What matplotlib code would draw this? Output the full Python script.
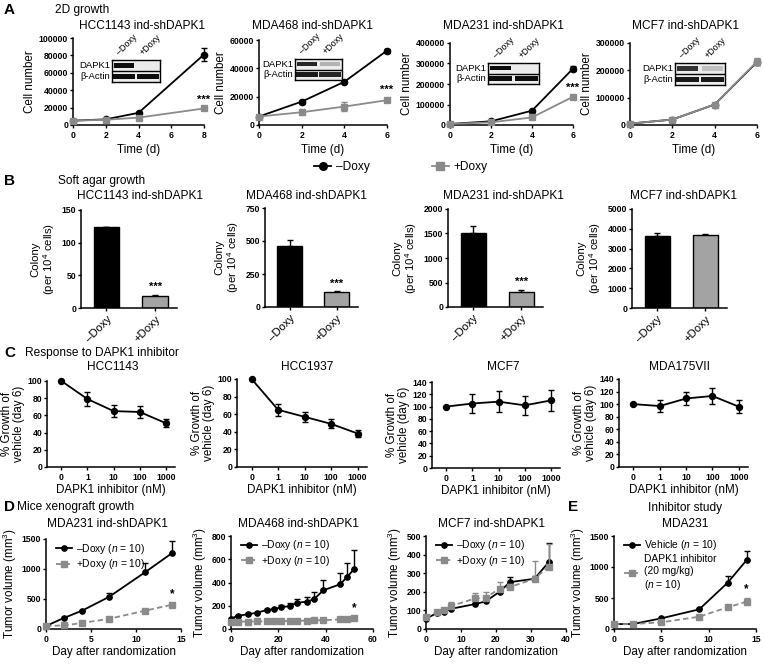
import matplotlib
matplotlib.use('Agg')
import matplotlib.pyplot as plt
from matplotlib.lines import Line2D
from matplotlib.patches import Rectangle
from matplotlib.collections import LineCollection

plt.rcParams['font.family'] = ['Liberation Sans', 'DejaVu Sans']
plt.rcParams['mathtext.fontset'] = 'custom'
plt.rcParams['mathtext.rm'] = 'Liberation Sans'
plt.rcParams['mathtext.it'] = 'Liberation Sans:italic'
plt.rcParams['mathtext.bf'] = 'Liberation Sans:bold'
plt.rcParams['axes.linewidth'] = 1.1
plt.rcParams['xtick.major.width'] = 1.0
plt.rcParams['ytick.major.width'] = 1.0
plt.rcParams['xtick.major.size'] = 2.5
plt.rcParams['ytick.major.size'] = 2.5
plt.rcParams['xtick.major.pad'] = 1.5
plt.rcParams['ytick.major.pad'] = 1.0

# ---------------- data ----------------
# Panel A: 2D growth
a_titles = ['HCC1143 ind-shDAPK1', 'MDA468 ind-shDAPK1', 'MDA231 ind-shDAPK1', 'MCF7 ind-shDAPK1']
a_days = [[0, 2, 4, 8], [0, 2, 4, 6], [0, 2, 4, 6], [0, 2, 4, 6]]
a_minus = [[5000, 6500, 14000, 81000], [6000, 16500, 30500, 52500],
           [5000, 18000, 70000, 275000], [5000, 20000, 75000, 230000]]
a_minus_err = [[500, 500, 1200, 8000], [500, 1500, 700, 1500],
               [1000, 2000, 4000, 12000], [1000, 2000, 4000, 10000]]
a_plus = [[5000, 6000, 8500, 19000], [6000, 9000, 13000, 17500],
          [5000, 13000, 37000, 138000], [5000, 20000, 75000, 232000]]
a_plus_err = [[500, 500, 1000, 1500], [500, 1000, 3000, 1500],
              [1000, 1500, 3000, 6000], [1000, 2000, 5000, 12000]]
a_xticks = [[0, 2, 4, 6, 8], [0, 2, 4, 6], [0, 2, 4, 6], [0, 2, 4, 6]]
a_yticks = [[0, 20000, 40000, 60000, 80000, 100000], [0, 20000, 40000, 60000],
            [0, 100000, 200000, 300000, 400000], [0, 100000, 200000, 300000]]
a_sig = ['***', '***', '***', '']
# western blot band intensities (lanes: -Doxy, +Doxy)
blot_dapk = [[0.95, 0.08], [0.85, 0.3], [0.95, 0.08], [0.8, 0.25]]
blot_actin = [[0.95, 0.95], [0.9, 0.85], [0.95, 0.95], [0.9, 0.9]]

# Panel B: soft agar
b_groups = ['–Doxy', '+Doxy']
b_vals = [[124, 19], [460, 115], [1500, 300], [3650, 3680]]
b_err = [[0.5, 1.5], [45, 5], [150, 45], [150, 50]]
b_yticks = [[0, 50, 100, 150], [0, 250, 500, 750], [0, 500, 1000, 1500, 2000],
            [0, 1000, 2000, 3000, 4000, 5000]]
b_sig = ['***', '***', '***', '']

# Panel C: response to DAPK1 inhibitor
c_titles = ['HCC1143', 'HCC1937', 'MCF7', 'MDA175VII']
c_doses = ['0', '1', '10', '100', '1000']
c_vals = [[100, 79, 65, 64, 51], [100, 65, 57, 49, 38],
          [100, 105, 108, 102, 110], [100, 97, 109, 113, 96]]
c_err = [[0, 8, 7, 7, 5], [0, 7, 6, 5, 4], [0, 16, 17, 16, 17], [0, 10, 11, 12, 10]]
c_yticks = [[0, 20, 40, 60, 80, 100], [0, 20, 40, 60, 80, 100],
            [0, 20, 40, 60, 80, 100, 120, 140], [0, 20, 40, 60, 80, 100, 120, 140]]

# Panel D: xenografts
d_titles = ['MDA231 ind-shDAPK1', 'MDA468 ind-shDAPK1', 'MCF7 ind-shDAPK1']
d231_days = [0, 2, 4, 7, 11, 14]
d231_minus = [50, 185, 305, 535, 945, 1265]
d231_minus_err = [5, 15, 20, 65, 155, 195]
d231_plus = [50, 60, 100, 170, 305, 405]
d231_plus_err = [5, 5, 8, 10, 15, 25]
d468_days = [0, 3, 7, 11, 15, 18, 21, 25, 28, 32, 35, 39, 46, 49, 52]
d468_minus = [90, 114, 126, 140, 163, 169, 186, 198, 226, 235, 255, 333, 384, 445, 516]
d468_minus_err = [5, 8, 8, 10, 10, 12, 20, 28, 32, 43, 66, 88, 100, 125, 165]
d468_plus = [62, 63, 64, 65, 66, 67, 68, 69, 70, 72, 74, 76, 82, 88, 95]
d468_plus_err = [3, 3, 3, 3, 3, 3, 3, 3, 3, 3, 4, 4, 5, 6, 8]
dmcf_days = [0, 3, 5, 7, 14, 17, 21, 24, 31, 35]
dmcf_minus = [55, 85, 93, 108, 134, 148, 200, 252, 270, 358]
dmcf_minus_err = [8, 6, 6, 8, 8, 8, 12, 30, 15, 106]
dmcf_plus = [62, 90, 102, 123, 164, 167, 217, 226, 270, 335]
dmcf_plus_err = [8, 6, 6, 23, 30, 33, 35, 15, 94, 124]

# Panel E: inhibitor study
e_days = [0, 2, 5, 9, 12, 14]
e_vehicle = [80, 80, 172, 317, 745, 1110]
e_vehicle_err = [5, 5, 10, 15, 110, 150]
e_inhib = [80, 80, 108, 198, 350, 440]
e_inhib_err = [5, 5, 8, 10, 36, 55]

# ---------------- helpers ----------------
BLACK = '#000000'
GRAY = '#8a8a8a'
BARGRAY = '#a3a3a3'
TICKFS = 6.2
LABFS = 8.4
TITFS = 8.6

W, H = 764, 664
fig = plt.figure(figsize=(W / 100, H / 100), dpi=100)


def add_ax(x0, y0, x1, y1):
    return fig.add_axes([x0 / W, 1 - y1 / H, (x1 - x0) / W, (y1 - y0) / H])


def ftext(x, y, s, **kw):
    fig.text(x / W, 1 - y / H, s, **kw)


def style(ax, xticks=None, xlabels=None, yticks=None, ylabels=None, xbold=True):
    for s in ['top', 'right']:
        ax.spines[s].set_visible(False)
    if xticks is not None:
        ax.set_xticks(xticks)
        ax.set_xticklabels(xlabels if xlabels is not None else [str(t) for t in xticks],
                           fontsize=TICKFS, fontweight='bold' if xbold else 'normal')
    if yticks is not None:
        ax.set_yticks(yticks)
        ax.set_yticklabels(ylabels if ylabels is not None else [str(t) for t in yticks],
                           fontsize=TICKFS, fontweight='bold')


def unclip(ax):
    for ch in ax.get_children():
        if isinstance(ch, (Line2D, LineCollection)):
            ch.set_clip_on(False)


# ---------------- panel labels ----------------
ftext(4, 10, 'A', fontsize=11, fontweight='bold', va='center')
ftext(55, 10, '2D growth', fontsize=TITFS, va='center')
ftext(4, 181, 'B', fontsize=11, fontweight='bold', va='center')
ftext(58, 181, 'Soft agar growth', fontsize=TITFS, va='center')
ftext(4, 353, 'C', fontsize=11, fontweight='bold', va='center')
ftext(25, 353, 'Response to DAPK1 inhibitor', fontsize=TITFS, va='center')
ftext(4, 507, 'D', fontsize=11, fontweight='bold', va='center')
ftext(17, 507, 'Mice xenograft growth', fontsize=TITFS, va='center')
ftext(568, 507, 'E', fontsize=11, fontweight='bold', va='center')
ftext(685, 508, 'Inhibitor study', fontsize=TITFS, va='center', ha='center')

# ---------------- Panel A ----------------
a_boxes = [(73, 38, 204, 125), (259, 40, 387, 125), (450, 43, 573, 125), (630, 43, 757, 125)]
a_tcent = [142, 312, 503, 685]
blot_boxes = [(112, 60, 160, 82), (295, 59, 342, 80), (488, 63, 539, 84), (675, 63, 725, 85)]
for i in range(4):
    ax = add_ax(*a_boxes[i])
    ax.errorbar(a_days[i], a_minus[i], yerr=a_minus_err[i], color=BLACK, marker='o', ms=4.5,
                lw=1.3, capsize=2, elinewidth=1, zorder=3)
    ax.errorbar(a_days[i], a_plus[i], yerr=a_plus_err[i], color=GRAY, marker='s', ms=4.5,
                lw=1.3, capsize=2, elinewidth=1, zorder=4)
    ax.set_xlim(0, a_xticks[i][-1])
    ax.set_ylim(0, a_yticks[i][-1])
    style(ax, a_xticks[i], None, a_yticks[i])
    unclip(ax)
    ax.set_xlabel('Time (d)', fontsize=LABFS, labelpad=3)
    ax.set_ylabel('Cell number', fontsize=LABFS, labelpad=2)
    if a_sig[i]:
        ax.annotate(a_sig[i], (a_days[i][-1], a_plus[i][-1] + a_plus_err[i][-1]),
                    xytext=(0, 2), textcoords='offset points', ha='center', va='bottom',
                    fontsize=8, fontweight='bold')
    ftext(a_tcent[i], 26, a_titles[i], fontsize=TITFS, ha='center', va='center')

    # western blot inset
    bx0, by0, bx1, by1 = blot_boxes[i]
    bax = add_ax(bx0, by0, bx1, by1)
    bax.set_xlim(0, 2)
    bax.set_ylim(0, 2)
    bax.set_facecolor('#ececec')
    bax.set_xticks([])
    bax.set_yticks([])
    for s in bax.spines.values():
        s.set_linewidth(1.0)
    bax.axhline(1, color=BLACK, lw=1.0)
    for j in range(2):
        g = 1 - blot_dapk[i][j]
        bax.add_patch(Rectangle((j + 0.08, 1.3), 0.84, 0.4, color=(g, g, g), lw=0))
        g = 1 - blot_actin[i][j]
        bax.add_patch(Rectangle((j + 0.04, 0.25), 0.92, 0.5, color=(g, g, g), lw=0))
    ftext(bx0 - 2, by0 + (by1 - by0) * 0.27, 'DAPK1', fontsize=6.8, ha='right', va='center')
    ftext(bx0 - 2, by0 + (by1 - by0) * 0.75, 'β-Actin', fontsize=6.8, ha='right', va='center')
    bw = (bx1 - bx0) / 2
    for j, lab in enumerate(['–Doxy', '+Doxy']):
        ftext(bx0 + bw * (j + 0.5) - 3, by0 - 3, lab, fontsize=6.5, rotation=45,
              ha='left', va='bottom', rotation_mode='anchor')

# legend between A and B
h1 = Line2D([], [], color=BLACK, marker='o', ms=5.5, lw=1.3)
h2 = Line2D([], [], color=GRAY, marker='s', ms=5.5, lw=1.3)
fig.legend([h1, h2], ['–Doxy', '+Doxy'], loc='center', bbox_to_anchor=(401 / W, 1 - 167 / H),
           ncol=2, frameon=False, fontsize=8.6, handlelength=1.4, columnspacing=5.2,
           handletextpad=0.4)

# ---------------- Panel B ----------------
b_boxes = [(81, 210, 177, 308), (265, 208, 358, 307), (448, 209, 543, 307), (632, 209, 727, 308)]
b_tcent = [140, 306, 503, 684]
for i in range(4):
    ax = add_ax(*b_boxes[i])
    ax.bar([0, 1], b_vals[i], width=0.52, color=[BLACK, BARGRAY], edgecolor=BLACK,
           linewidth=1.0, zorder=2)
    ax.errorbar([0, 1], b_vals[i], yerr=[[0, 0], b_err[i]], fmt='none', ecolor=BLACK,
                capsize=2.5, elinewidth=1.0, capthick=1.0, zorder=1)
    ax.set_xlim(-0.52, 1.45)
    ax.set_ylim(0, b_yticks[i][-1])
    style(ax, [0, 1], b_groups, b_yticks[i], xbold=False)
    for lab in ax.get_xticklabels():
        lab.set_rotation(45)
        lab.set_ha('right')
        lab.set_rotation_mode('anchor')
        lab.set_fontsize(8.2)
    unclip(ax)
    ax.set_ylabel('Colony\n(per 10$^{4}$ cells)', fontsize=8.2, labelpad=3, linespacing=1.1)
    if b_sig[i]:
        ax.annotate(b_sig[i], (1, b_vals[i][1] + b_err[i][1]), xytext=(0, 2),
                    textcoords='offset points', ha='center', va='bottom', fontsize=8,
                    fontweight='bold')
    ftext(b_tcent[i], 196, a_titles[i], fontsize=TITFS, ha='center', va='center')

# ---------------- Panel C ----------------
c_boxes = [(47, 381, 175, 467), (237, 379, 367, 467), (432, 382, 560, 468), (619, 379, 748, 467)]
c_tcent = [113, 307, 503, 680]
for i in range(4):
    ax = add_ax(*c_boxes[i])
    xs = list(range(len(c_doses)))
    ax.errorbar(xs, c_vals[i], yerr=c_err[i], color=BLACK, marker='o', ms=4.3, lw=1.3,
                capsize=2, elinewidth=1.0)
    ax.set_xlim(-0.55, 4.35)
    ax.set_ylim(0, c_yticks[i][-1])
    style(ax, xs, c_doses, c_yticks[i])
    unclip(ax)
    ax.set_xlabel('DAPK1 inhibitor (nM)', fontsize=LABFS, labelpad=2)
    ax.set_ylabel('% Growth of\nvehicle (day 6)', fontsize=LABFS, labelpad=2, linespacing=1.0)
    ftext(c_tcent[i], 367, c_titles[i], fontsize=TITFS, ha='center', va='center')

# ---------------- Panel D & E ----------------
def growth_panel(box, xmax, xticks, yticks, days, m, merr, p, perr, labels, sig, tcent, title):
    ax = add_ax(*box)
    ax.errorbar(days, m, yerr=[[0] * len(m), merr], color=BLACK, marker='o', ms=3.8, lw=1.3,
                capsize=2, elinewidth=1.0, zorder=3)
    ax.errorbar(days, p, yerr=[[0] * len(p), perr], color=GRAY, marker='s', ms=3.8, lw=1.3,
                ls=(0, (3, 1.8)), capsize=2, elinewidth=1.0, zorder=4)
    ax.set_xlim(0, xmax)
    ax.set_ylim(0, yticks[-1])
    style(ax, xticks, None, yticks)
    unclip(ax)
    ax.set_xlabel('Day after randomization', fontsize=LABFS, labelpad=2)
    ax.set_ylabel('Tumor volume (mm$^{3}$)', fontsize=LABFS, labelpad=2)
    hm = Line2D([], [], color=BLACK, marker='o', ms=3.8, lw=1.3)
    hp = Line2D([], [], color=GRAY, marker='s', ms=3.8, lw=1.3, ls=(0, (3, 1.8)))
    ax.legend([hm, hp], labels, loc='upper left', frameon=False, fontsize=7.4,
              handlelength=1.5, handletextpad=0.4, borderaxespad=0.2, labelspacing=0.15,
              bbox_to_anchor=(0.03, 1.04))
    if sig:
        ax.annotate(sig, (days[-1], p[-1] + perr[-1]), xytext=(0, 2), textcoords='offset points',
                    ha='center', va='bottom', fontsize=8.5, fontweight='bold')
    ftext(tcent, 524, title, fontsize=TITFS, ha='center', va='center')
    return ax


lab_dox = ['–Doxy ($n$ = 10)', '+Doxy ($n$ = 10)']
growth_panel((46, 539, 181, 629), 15, [0, 5, 10, 15], [0, 500, 1000, 1500],
             d231_days, d231_minus, d231_minus_err, d231_plus, d231_plus_err,
             lab_dox, '*', 107, d_titles[0])
growth_panel((231, 536, 373, 629), 60, [0, 20, 40, 60], [0, 200, 400, 600, 800],
             d468_days, d468_minus, d468_minus_err, d468_plus, d468_plus_err,
             lab_dox, '*', 298, d_titles[1])
growth_panel((426, 536, 566, 629), 40, [0, 10, 20, 30, 40], [0, 100, 200, 300, 400, 500],
             dmcf_days, dmcf_minus, dmcf_minus_err, dmcf_plus, dmcf_plus_err,
             lab_dox, '', 491, d_titles[2])
growth_panel((614, 536, 756, 629), 15, [0, 5, 10, 15], [0, 500, 1000, 1500],
             e_days, e_vehicle, e_vehicle_err, e_inhib, e_inhib_err,
             ['Vehicle ($n$ = 10)', 'DAPK1 inhibitor\n(20 mg/kg)\n($n$ = 10)'], '*', 685, 'MDA231')

fig.savefig('out.png', dpi=100)
